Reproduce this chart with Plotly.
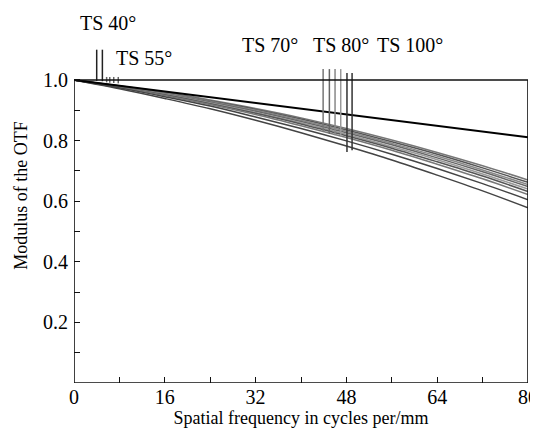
import plotly.graph_objects as go

freq = [0, 8, 16, 24, 32, 40, 48, 56, 64, 72, 80]

diffraction = [1.0, 0.981, 0.962, 0.943, 0.924, 0.905, 0.887, 0.868, 0.849, 0.830, 0.811]

curves = [
    [1.0, 0.981, 0.960, 0.934, 0.906, 0.875, 0.840, 0.802, 0.761, 0.717, 0.670],
    [1.0, 0.980, 0.958, 0.931, 0.903, 0.871, 0.835, 0.796, 0.755, 0.710, 0.662],
    [1.0, 0.979, 0.957, 0.929, 0.900, 0.867, 0.831, 0.791, 0.749, 0.703, 0.655],
    [1.0, 0.979, 0.955, 0.927, 0.897, 0.863, 0.826, 0.786, 0.743, 0.697, 0.648],
    [1.0, 0.978, 0.953, 0.924, 0.893, 0.859, 0.821, 0.780, 0.737, 0.690, 0.640],
    [1.0, 0.977, 0.951, 0.922, 0.890, 0.855, 0.816, 0.775, 0.730, 0.683, 0.632],
    [1.0, 0.976, 0.949, 0.919, 0.886, 0.849, 0.810, 0.768, 0.722, 0.674, 0.622],
    [1.0, 0.974, 0.945, 0.914, 0.878, 0.840, 0.799, 0.755, 0.708, 0.658, 0.605],
    [1.0, 0.971, 0.939, 0.905, 0.867, 0.826, 0.782, 0.736, 0.686, 0.634, 0.578],
]
curve_colors = ["#777777", "#555555", "#888888", "#666666", "#999999",
                "#555555", "#777777", "#444444", "#444444"]

# field marker lines (frequency, top value, bottom value)
marker_x = [4.0, 5.0, 5.75, 6.3, 7.0, 7.8, 43.9, 45.0, 46.0, 47.0, 48.1, 49.0]
marker_top = [1.10, 1.10, 1.01, 1.01, 1.01, 1.01, 1.036, 1.036, 1.036, 1.036, 1.023, 1.023]
marker_bot = [0.997, 0.996, 0.992, 0.991, 0.990, 0.989, 0.828, 0.822, 0.818, 0.812, 0.762, 0.768]
marker_colors = ["#222222", "#222222", "#666666", "#666666", "#666666", "#666666",
                 "#777777", "#666666", "#888888", "#999999", "#333333", "#333333"]

label_text = ["TS 40°", "TS 55°", "TS 70°", "TS 80°", "TS 100°"]
label_x = [6.0, 12.3, 34.5, 47.0, 59.2]
label_y = [1.188, 1.073, 1.115, 1.115, 1.115]

x_tickvals = [0, 8, 16, 24, 32, 40, 48, 56, 64, 72, 80]
x_ticktext = ["0", "", "16", "", "32", "", "48", "", "64", "", "80"]
y_tickvals = [0.1, 0.2, 0.3, 0.4, 0.5, 0.6, 0.7, 0.8, 0.9, 1.0]
y_ticktext = ["", "0.2", "", "0.4", "", "0.6", "", "0.8", "", "1.0"]

FONT = "Liberation Serif, Times New Roman, serif"

fig = go.Figure()
for c, col in zip(curves, curve_colors):
    fig.add_trace(go.Scatter(x=freq, y=c, mode="lines", line=dict(color=col, width=1.5, shape="spline"),
                             showlegend=False, hoverinfo="skip"))
fig.add_trace(go.Scatter(x=freq, y=diffraction, mode="lines", line=dict(color="#000000", width=2),
                         showlegend=False, hoverinfo="skip"))
for mx, mt, mb, mc in zip(marker_x, marker_top, marker_bot, marker_colors):
    fig.add_trace(go.Scatter(x=[mx, mx], y=[mt, mb], mode="lines", line=dict(color=mc, width=1.5),
                             showlegend=False, hoverinfo="skip"))

for t, lx, ly in zip(label_text, label_x, label_y):
    fig.add_annotation(x=lx, y=ly, xref="x", yref="y", text=t, showarrow=False,
                       font=dict(family=FONT, size=20, color="#000000"))

fig.add_shape(type="rect", xref="x", yref="y", x0=0, x1=80, y0=0, y1=1,
              line=dict(color="#111111", width=1.6), layer="above")

fig.update_layout(
    width=530, height=422,
    margin=dict(l=66, r=10, t=0, b=47),
    plot_bgcolor="white", paper_bgcolor="white",
    font=dict(family=FONT, size=18, color="#000000"),
    xaxis=dict(range=[0, 80], tickvals=x_tickvals, ticktext=x_ticktext, ticks="inside",
               ticklen=6, tickcolor="#111111", showgrid=False, zeroline=False, showline=False,
               tickfont=dict(size=20), automargin=False, ticklabeloverflow="allow",
               title=dict(text="Spatial frequency in cycles per/mm", font=dict(size=18), standoff=2)),
    yaxis=dict(range=[0, 1.2376], tickvals=y_tickvals, ticktext=y_ticktext, ticks="inside",
               ticklen=6, tickcolor="#111111", showgrid=False, zeroline=False, showline=False,
               tickfont=dict(size=20), ticklabelstandoff=5, automargin=False,
               title=dict(text="Modulus of the OTF", font=dict(size=18), standoff=10)),
)

fig.write_html("out.html")
